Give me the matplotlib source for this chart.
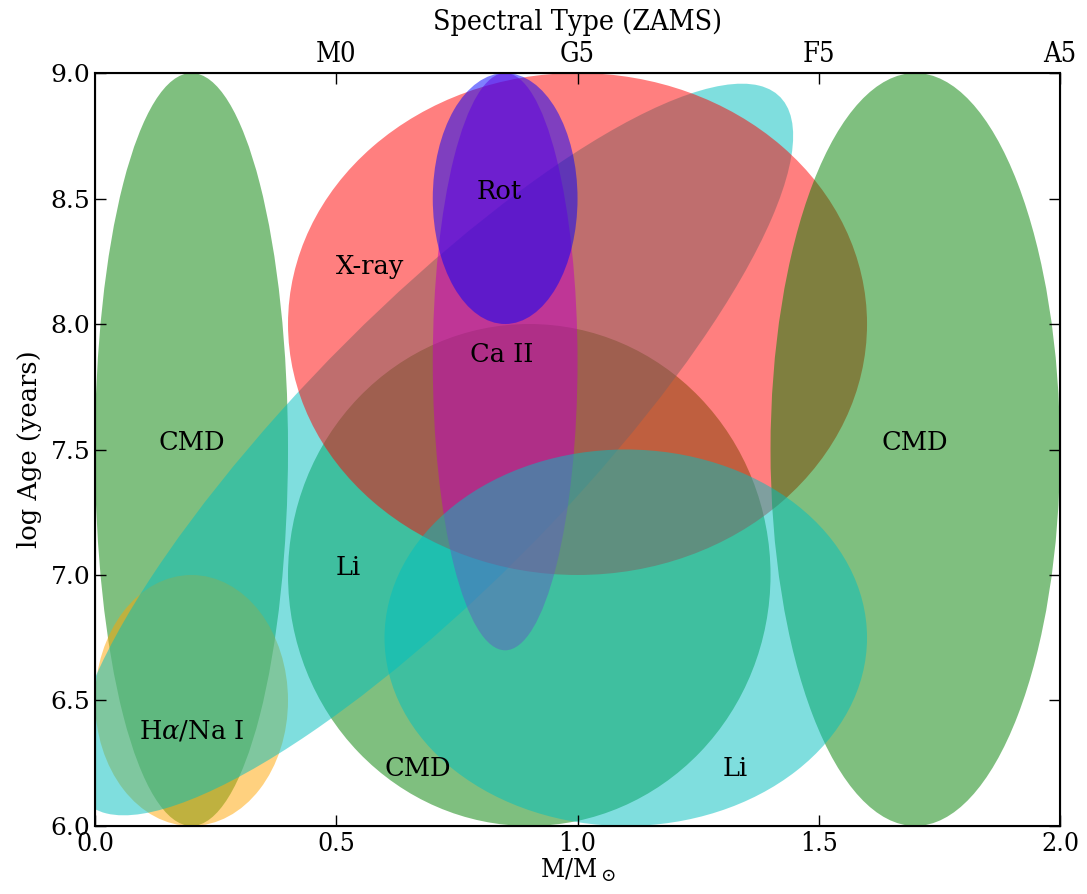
import matplotlib
matplotlib.use("Agg")
import matplotlib.pyplot as plt
from matplotlib.patches import Ellipse

plt.rcParams['font.family'] = ['DejaVu Serif']
plt.rcParams['mathtext.fontset'] = 'dejavuserif'

# ellipses, in drawing order
ell_x = [0.2, 0.9, 0.2, 0.70, 1.0, 1.7, 0.85, 1.1, 0.85]
ell_y = [7.5, 7.0, 6.5, 7.50, 8.0, 7.5, 7.85, 6.75, 8.5]
ell_w = [0.4, 1.0, 0.4, 3.2, 1.2, 0.6, 0.3, 1.0, 0.3]
ell_h = [3.0, 2.0, 1.0, 0.7, 2.0, 3.0, 2.3, 1.5, 1.0]
ell_ang = [0, 0, 0, 65, 0, 0, 0, 0, 0]
ell_col = ['g', 'g', 'orange', 'c', 'r', 'g', 'm', 'c', 'b']

# labels
lab_text = ['CMD', 'CMD', 'CMD', 'Li', 'Li', 'X-ray', 'Rot', 'Ca II', r'H$\alpha$/Na I']
lab_x = [0.2, 1.7, 0.67, 0.525, 1.326, 0.57, 0.837, 0.843, 0.2]
lab_y = [7.5, 7.5, 6.2, 7.0, 6.2, 8.2, 8.5, 7.85, 6.35]

xticks = [0.0, 0.5, 1.0, 1.5, 2.0]
yticks = [6.0, 6.5, 7.0, 7.5, 8.0, 8.5, 9.0]
sp_ticks = [0.5, 1.0, 1.5, 2.0]
sp_labels = ['M0', 'G5', 'F5', 'A5']

fig = plt.figure(figsize=(10.87, 8.94), dpi=100)
ax = fig.add_axes([0.0874, 0.0761, 0.8878, 0.8422])

for x, y, w, h, a, c in zip(ell_x, ell_y, ell_w, ell_h, ell_ang, ell_col):
    e = Ellipse((x, y), w, h, angle=a, facecolor=c, alpha=0.5, linewidth=0)
    ax.add_patch(e)

for t, x, y in zip(lab_text, lab_x, lab_y):
    ax.text(x, y, t, ha='center', va='baseline', fontsize=18.5)

ax.set_xlim(0, 2)
ax.set_ylim(6, 9)
ax.set_xticks(xticks)
ax.set_xticklabels(['%.1f' % v for v in xticks], fontstretch='condensed', fontsize=19)
ax.set_yticks(yticks)
ax.set_yticklabels(['%.1f' % v for v in yticks], fontsize=18)
ax.tick_params(direction='in', length=8, width=1, top=True, right=True)
ax.set_xlabel(r'M/M$_\odot$', fontsize=19, labelpad=1, fontstretch='condensed')
ax.set_ylabel('log Age (years)', fontsize=18.5, labelpad=6)
for s in ax.spines.values():
    s.set_linewidth(1.5)

ax2 = ax.twiny()
ax2.set_xlim(0, 2)
ax2.set_xticks(sp_ticks)
ax2.set_xticklabels(sp_labels, fontstretch='condensed')
ax2.tick_params(direction='in', length=8, width=1, labelsize=19.5)
ax2.set_xlabel('Spectral Type (ZAMS)', fontsize=20.5, fontstretch='condensed', labelpad=8)

fig.savefig('out.png', dpi=100)
